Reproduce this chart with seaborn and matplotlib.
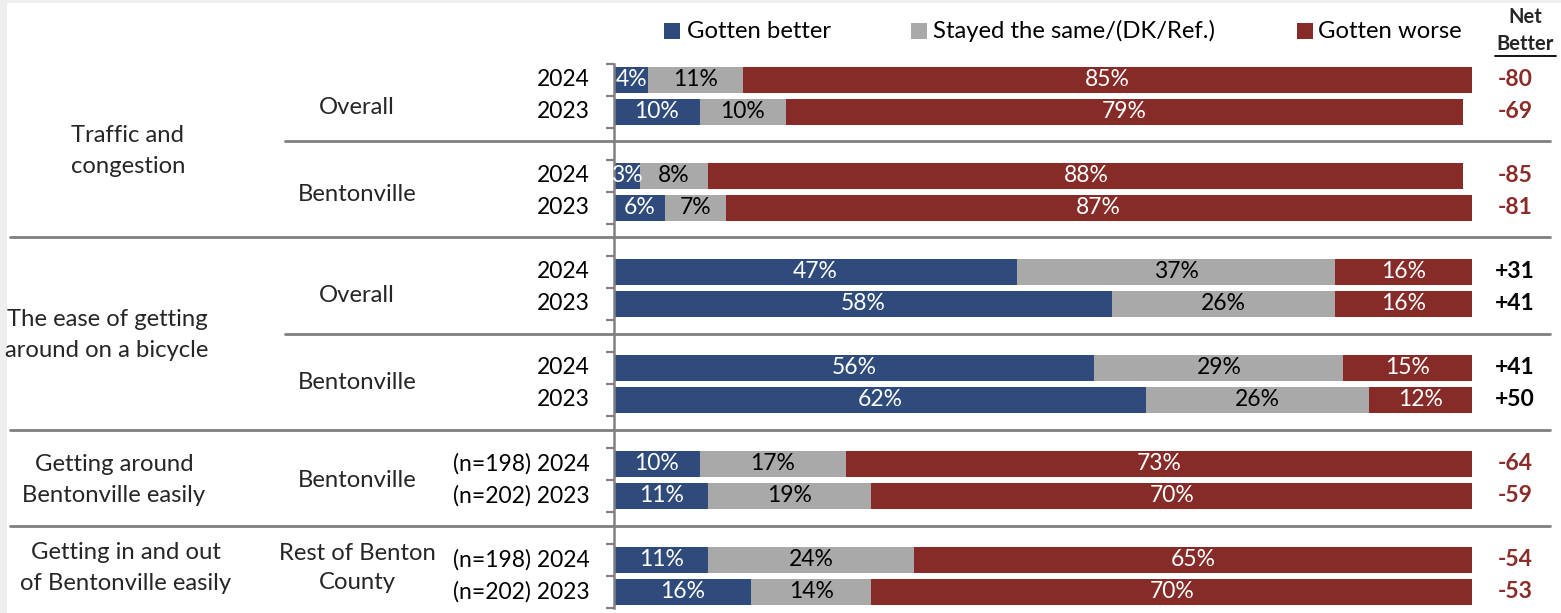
import matplotlib
matplotlib.use("Agg")
import matplotlib.pyplot as plt
import matplotlib.transforms as mtransforms
from matplotlib.patches import Rectangle
from matplotlib.lines import Line2D
import numpy as np
import pandas as pd
import seaborn as sns

# ---- survey results -------------------------------------------------------
topics = [
    "Traffic and\ncongestion",
    "The ease of getting\naround on a bicycle",
    "Getting around\nBentonville easily",
    "Getting in and out\nof Bentonville easily",
]
groups = ["Overall", "Bentonville", "Overall", "Bentonville",
          "Bentonville", "Rest of Benton\nCounty"]
group_topic = [0, 0, 1, 1, 2, 3]
years = ["2024", "2023", "2024", "2023", "2024", "2023", "2024", "2023",
         "(n=198) 2024", "(n=202) 2023", "(n=198) 2024", "(n=202) 2023"]
better = [4, 10, 3, 6, 47, 58, 56, 62, 10, 11, 11, 16]
same = [11, 10, 8, 7, 37, 26, 29, 26, 17, 19, 24, 14]
worse = [85, 79, 88, 87, 16, 16, 15, 12, 73, 70, 65, 70]
net_better = [-80, -69, -85, -81, 31, 41, 41, 50, -64, -59, -54, -53]
series_names = ["Gotten better", "Stayed the same/(DK/Ref.)", "Gotten worse"]

BLUE = "#2F4B7C"
GRAY = "#A9A9AA"
RED = "#862B27"
NEG = "#8A2C27"
LINE = "#808080"

W, H = 1561, 613
sns.set_theme(style="white")
plt.rcParams["font.family"] = ["Lato", "DejaVu Sans"]
FS = 16.5      # numbers
FS_TXT = 17.2  # word labels

# each pair of years occupies two slots, followed by one empty slot
n_rows = len(years)
slots = [3 * (i // 2) + (i % 2) for i in range(n_rows)]
n_slots = slots[-1] + 1
order = [f"s{k}" for k in range(n_slots)]

df = pd.DataFrame({
    "slot": [f"s{k}" for k in slots],
    "better": better,
    "same": same,
    "worse": worse,
})
df["cum_same"] = df["better"] + df["same"]
df["cum_worse"] = df["cum_same"] + df["worse"]

fig = plt.figure(figsize=(W / 100, H / 100), dpi=100)
fig.patch.set_facecolor("white")

# light frame strips along the left and top edges
fig.add_artist(Rectangle((0, 0), 7 / W, 1, transform=fig.transFigure,
                         facecolor="#EEEEEE", edgecolor="none", zorder=0))
fig.add_artist(Rectangle((0, 1 - 3 / H), 1, 3 / H, transform=fig.transFigure,
                         facecolor="#EEEEEE", edgecolor="none", zorder=0))

ax_left, ax_right = 614, 1472
ax_top, ax_bottom = 64, 608
ax = fig.add_axes([ax_left / W, (H - ax_bottom) / H,
                   (ax_right - ax_left) / W, (ax_bottom - ax_top) / H])
ax.set_facecolor("none")

for col, color in [("cum_worse", RED), ("cum_same", GRAY), ("better", BLUE)]:
    sns.barplot(data=df, x=col, y="slot", order=order, color=color,
                saturation=1, width=0.8, errorbar=None, orient="h", ax=ax,
                linewidth=0)

ax.set_xlim(0, 100)
ax.set_ylim(n_slots - 0.5, -0.5)
ax.set_xlabel("")
ax.set_ylabel("")
ax.set_xticks([])
ax.set_yticks(np.arange(-0.5, n_slots, 1.0))
ax.set_yticklabels([])
ax.tick_params(axis="y", length=6, width=1.6, color=LINE, direction="out", left=True)
for s in ["top", "right", "bottom"]:
    ax.spines[s].set_visible(False)
ax.spines["left"].set_color(LINE)
ax.spines["left"].set_linewidth(1.8)

# segment value labels
for i in range(n_rows):
    y = slots[i]
    left = 0
    for v, tc in [(better[i], "white"), (same[i], "black"), (worse[i], "white")]:
        ax.text(left + v / 2, y, f"{v}%", ha="center", va="center",
                color=tc, fontsize=FS)
        left += v

# mixed transform: x in figure pixels, y in slot units
bt = mtransforms.blended_transform_factory(fig.transFigure, ax.transData)


def fx(px):
    return px / W


# net better column
for i in range(n_rows):
    v = net_better[i]
    txt = f"+{v}" if v > 0 else f"{v}"
    ax.text(fx(1515), slots[i], txt, transform=bt, ha="center", va="center",
            fontsize=FS, fontweight="bold", color=NEG if v < 0 else "black",
            clip_on=False)

# year labels
for i in range(n_rows):
    ax.text(fx(590), slots[i], years[i], transform=bt, ha="right",
            va="center", fontsize=FS, color="black", clip_on=False)

# sub-group labels
group_y = [0.87, 3.59, 6.72, 9.44, 12.53, 15.25]
for g, y in zip(groups, group_y):
    ax.text(fx(357), y, g, transform=bt, ha="center", va="center",
            fontsize=FS_TXT, linespacing=1.42, clip_on=False)

# topic labels
topic_pos = [(128, 2.22), (107, 7.97), (114, 12.5), (126, 15.25)]
for t, (x, y) in zip(topics, topic_pos):
    ax.text(fx(x), y, t, transform=bt, ha="center", va="center",
            fontsize=FS_TXT, linespacing=1.55, clip_on=False)

# separator lines between sub-groups and between topics
sep = [(1.91, 285), (4.91, 10), (7.94, 285), (10.93, 10), (13.93, 10)]
for y, x0 in sep:
    ax.add_line(Line2D([fx(x0), fx(1550)], [y, y], transform=bt,
                       color=LINE, linewidth=2.0, clip_on=False, zorder=0.5))

# legend
legend_items = [(664, 687, BLUE), (911, 933, GRAY), (1297, 1318, RED)]
ly = H - 31
for (sx, tx, c), name in zip(legend_items, series_names):
    fig.add_artist(Rectangle((sx / W, (ly - 8) / H), 16 / W, 16 / H,
                             transform=fig.transFigure, facecolor=c,
                             edgecolor="none"))
    fig.text(tx / W, ly / H, name, ha="left", va="center", fontsize=FS_TXT,
             color="black")

# net better header
fig.text(1525 / W, (H - 17) / H, "Net", ha="center", va="center",
         fontsize=14.5, fontweight="bold")
fig.text(1525 / W, (H - 44) / H, "Better", ha="center", va="center",
         fontsize=14.5, fontweight="bold")
fig.add_artist(Line2D([1495 / W, 1556 / W], [(H - 56) / H, (H - 56) / H],
                      transform=fig.transFigure, color="black", linewidth=1.3))

fig.savefig("out.png", dpi=100, facecolor="white")
